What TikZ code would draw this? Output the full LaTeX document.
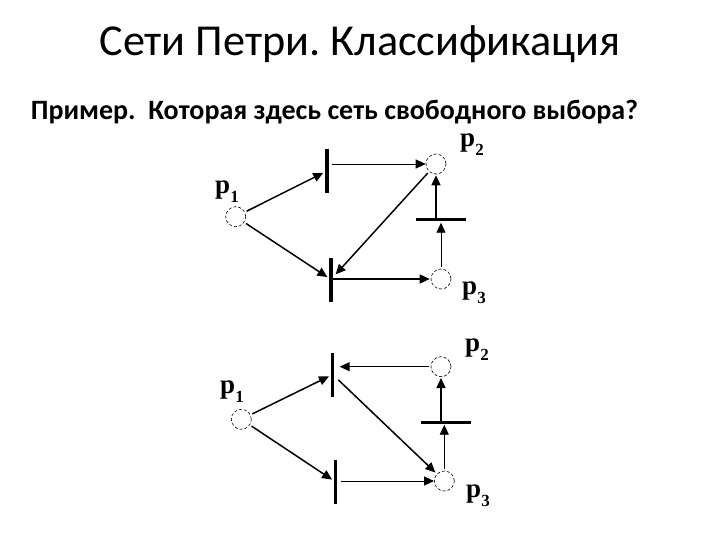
\documentclass[tikz,border=0pt]{standalone}
\usepackage{fontspec}
\setmainfont{Carlito}
\newfontfamily\lblfont{Liberation Serif}[Scale=1]
\usetikzlibrary{arrows.meta}
\newcommand{\plbl}[1]{{\lblfont\bfseries\fontsize{27}{27}\selectfont p\raisebox{-9pt}{\fontsize{17}{17}\selectfont #1}}}
\tikzset{
 x=1pt,y=-1pt,
 place/.style={circle,draw,densely dashed,line width=0.6pt,minimum size=20pt,inner sep=0pt},
 vbar/.style={fill=black,inner sep=0pt,minimum width=3.5pt,minimum height=44pt},
 hbar/.style={fill=black,inner sep=0pt,minimum width=50pt,minimum height=3pt},
 arc1/.style={line width=1.5pt,-{Triangle[length=10pt,width=9pt]},shorten <=2pt,shorten >=2pt},
 arcthin/.style={arc1,line width=0.9pt},
 plabel/.style={inner sep=0pt,anchor=center},
 ttl/.style={inner sep=0pt,anchor=center}
}
\begin{document}
\begin{tikzpicture}
\useasboundingbox (0,0) rectangle (720,540);
\fill[white] (0,0) rectangle (720,540);
\node[ttl,font=\fontsize{44.2}{44}\selectfont] (title) at (360,44) {\frenchspacing Сети Петри. Классификация};
\node[ttl,font=\fontsize{28}{28}\selectfont\bfseries] (sub) at (334.5,112) {\frenchspacing Пример.\ \ Которая здесь сеть свободного выбора?};
% top net
\node[place] (p1) at (235.7,216.7) {};
\node[place] (p2) at (436,164) {};
\node[place] (p3) at (441,279) {};
\node[vbar] (t1) at (327,171) {};
\node[vbar] (t2) at (331,279.5) {};
\node[hbar] (t3) at (441,220) {};
\draw[arc1] (p1) -- (t1);
\draw[arc1] (p1) -- (t2);
\draw[arcthin,shorten <=3pt,shorten >=0pt] (p2 -| t1.east) -- (p2);
\draw[arc1,shorten >=4pt] (p2) -- (t2);
\draw[arc1,shorten <=0pt,shorten >=1pt] (p2 |- t3) -- (p2);
\draw[arcthin,shorten >=1pt] (p3) -- (p3 |- t3.south);
\draw[arc1,shorten <=0pt,shorten >=1pt] (p3 -| t2.east) -- (p3);
\node[plabel] (l1) at (227,192) {\plbl{1}};
\node[plabel] (l2) at (472,145) {\plbl{2}};
\node[plabel] (l3) at (474,293) {\plbl{3}};
% bottom net
\node[place] (q1) at (241.3,419.3) {};
\node[place] (q2) at (441,366.7) {};
\node[place] (q3) at (444.3,481) {};
\node[vbar] (s1) at (332.7,374.5) {};
\node[vbar] (s2) at (335.7,482) {};
\node[hbar] (s3) at (446,422) {};
\draw[arc1] (q1) -- (s1);
\draw[arc1] (q1) -- (s2);
\draw[arcthin,shorten >=5pt] (q2) -- (q2 -| s1.east);
\draw[arc1,shorten <=5pt] (s1) -- (q3);
\draw[arcthin,shorten <=3pt,shorten >=0pt] (q3 -| s2.east) -- (q3);
\draw[arc1,shorten <=0pt,shorten >=1pt] (q2 |- s3) -- (q2);
\draw[arcthin,shorten >=1pt] (q3) -- (q3 |- s3.south);
\node[plabel] (m1) at (232,392) {\plbl{1}};
\node[plabel] (m2) at (477,350) {\plbl{2}};
\node[plabel] (m3) at (478,496) {\plbl{3}};
\end{tikzpicture}
\end{document}
